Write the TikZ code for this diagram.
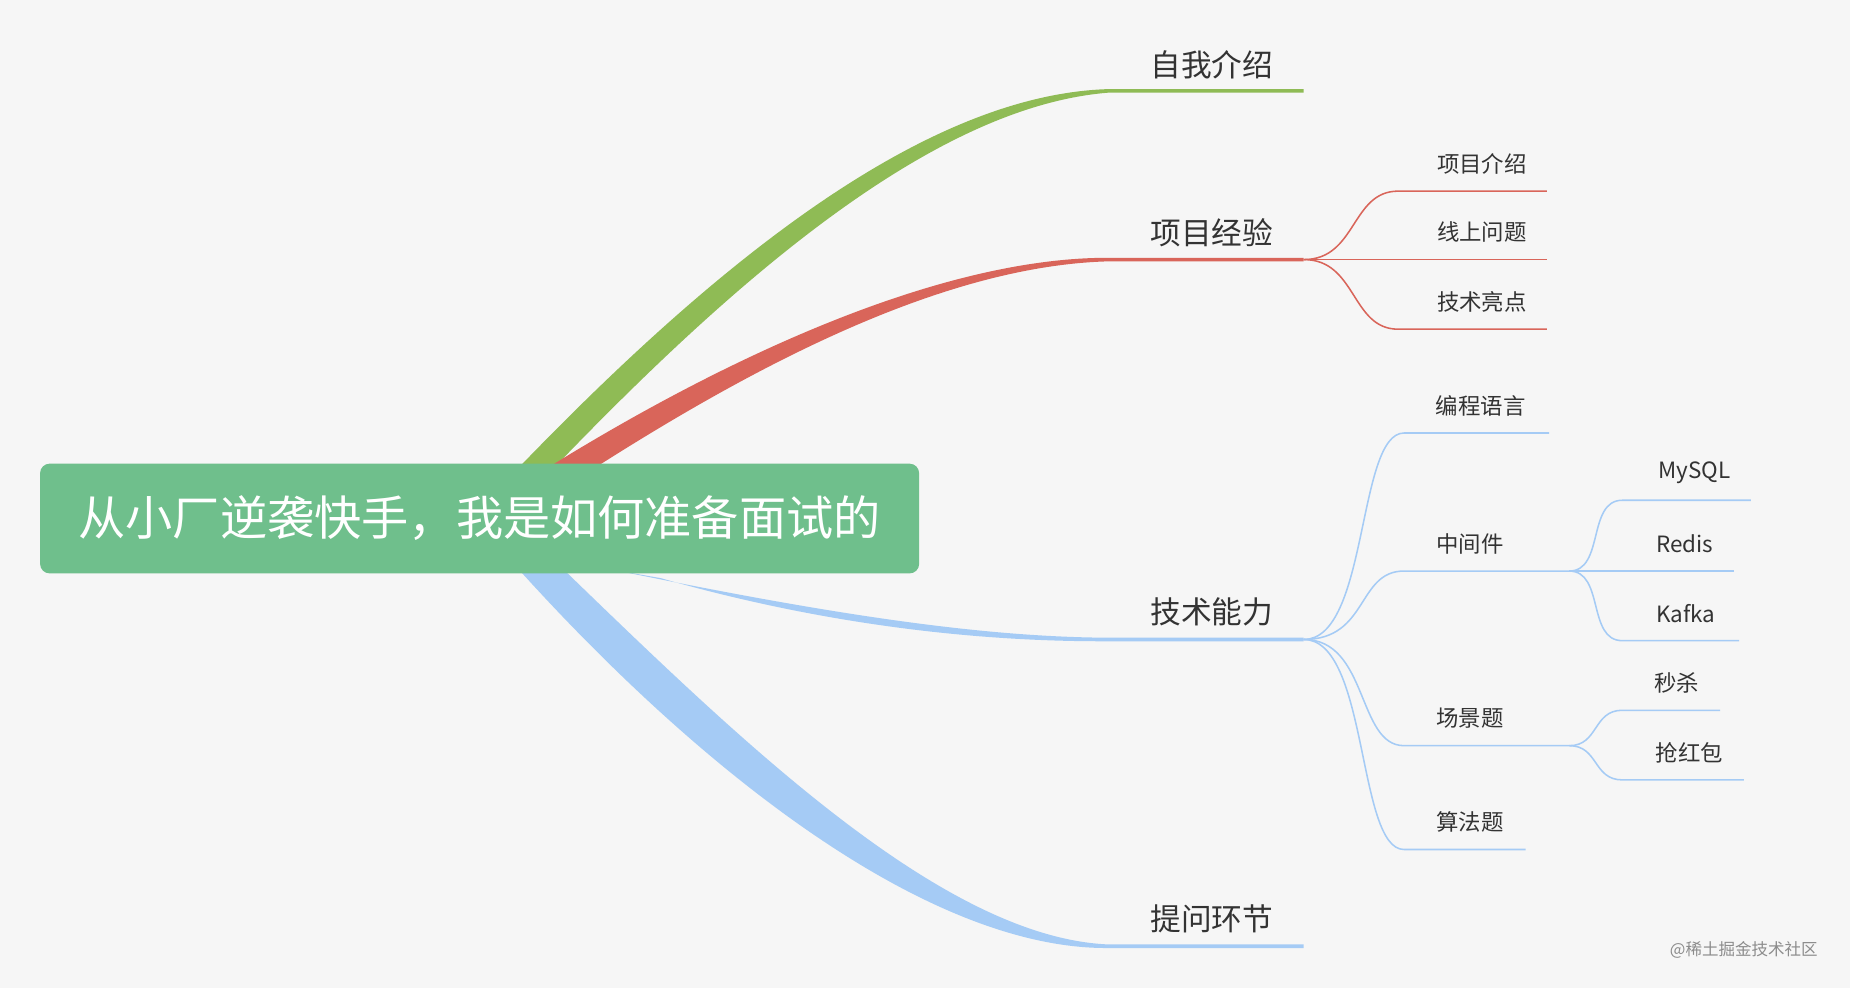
\documentclass[tikz,border=0pt]{standalone}
\usepackage{fontspec}
\setmainfont{Noto Sans CJK SC}
\definecolor{bg}{HTML}{F6F6F6}
\definecolor{rootc}{HTML}{6FBF8C}
\definecolor{gr}{HTML}{8FBB55}
\definecolor{rd}{HTML}{D9655A}
\definecolor{bl}{HTML}{A5CBF5}
\definecolor{tx}{HTML}{333333}
\begin{document}
\begin{tikzpicture}[x=1pt,y=-1pt,
  big/.style={font=\fontsize{26}{30}\selectfont,text=tx,anchor=center},
  sub/.style={font=\fontsize{19}{22}\selectfont,text=tx,anchor=center},
  thin/.style={line width=1.3pt}]
\useasboundingbox (0,0) rectangle (1568,837);
\fill[bg] (0,0) rectangle (1568,837);
% tapered main branches
\fill[gr] (440,396) .. controls (600,230) and (780,80) .. (940,75.5) -- (1105,75.5) -- (1105,78.5) -- (940,78.5) .. controls (790,90) and (620,240) .. (470,396) -- cycle;
\fill[rd] (465,396) .. controls (620,300) and (800,218) .. (940,218.5) -- (1105,218.5) -- (1105,221.5) -- (940,221.5) .. controls (800,225) and (640,310) .. (505,396) -- cycle;
\fill[bl] (520,483) .. controls (700,520) and (830,540) .. (940,540.5) -- (1105,540.5) -- (1105,543.5) -- (940,543.5) .. controls (830,544) and (700,530) .. (560,490) -- cycle;
\fill[bl] (478,483) .. controls (630,630) and (800,795) .. (940,800.5) -- (1105,800.5) -- (1105,803.5) -- (940,803.5) .. controls (790,805) and (600,660) .. (440,483) -- cycle;
% root
\node[fill=rootc,rounded corners=8pt,minimum width=745pt,minimum height=93pt,text=white,
  font=\fontsize{40}{44}\selectfont] (root) at (406.5,439.5) {从小厂逆袭快手，我是如何准备面试的};
% branch labels
\node[big] (b1) at (1027,55) {自我介绍};
\node[big] (b2) at (1027,197) {项目经验};
\node[big] (b3) at (1027,519) {技术能力};
\node[big] (b4) at (1027,779) {提问环节};
% project sub
\coordinate (p0) at (1105,220);
\foreach \y/\xe/\t/\n in {162/1311/项目介绍/pa,220/1311/线上问题/pb,279/1311/技术亮点/pc}{
  \draw[rd,thin] (p0) .. controls (1150,220) and (1145,\y) .. (1185,\y) -- (\xe,\y);
  \node[sub] (\n) at (1256,\y-23) {\t};
}
% tech sub
\coordinate (t0) at (1105,542);
\foreach \y/\xe/\xt/\t/\n in {367/1313/1255/编程语言/ta,484/1330/1246/中间件/tb,632/1330/1246/场景题/tc,720/1293/1246/算法题/td}{
  \draw[bl,thin] (t0) .. controls (1160,542) and (1150,\y) .. (1190,\y) -- (\xe,\y);
  \node[sub] (\n) at (\xt,\y-23) {\t};
}
\coordinate (m0) at (1330,484);
\foreach \y/\xe/\xt/\t/\n in {424/1484/1436/MySQL/ma,484/1470/1428/Redis/mb,543/1474/1429/Kafka/mc}{
  \draw[bl,thin] (m0) .. controls (1360,484) and (1345,\y) .. (1375,\y) -- (\xe,\y);
  \node[sub] (\n) at (\xt,\y-23) {\t};
}
\coordinate (s0) at (1330,632);
\foreach \y/\xe/\xt/\t/\n in {602/1458/1421/秒杀/sa,661/1478/1432/抢红包/sb}{
  \draw[bl,thin] (s0) .. controls (1355,632) and (1350,\y) .. (1375,\y) -- (\xe,\y);
  \node[sub] (\n) at (\xt,\y-23) {\t};
}
\node[font=\fontsize{14}{16}\selectfont,text=black!45] (wm) at (1478,805) {@稀土掘金技术社区};
\end{tikzpicture}
\end{document}
